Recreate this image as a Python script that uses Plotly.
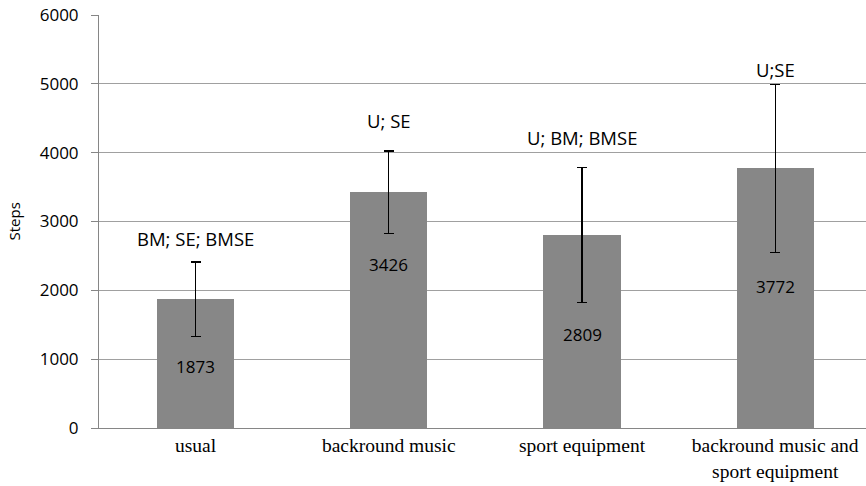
import plotly.graph_objects as go

categories = ["usual", "backround music", "sport equipment", "backround music and<br>sport equipment"]
steps = [1873, 3426, 2809, 3772]
errors = [540, 600, 980, 1220]
sig_labels = ["BM; SE; BMSE", "U; SE", "U; BM; BMSE", "U;SE"]
sig_label_y = [2760, 4470, 4220, 5210]
value_label_y = [900, 2380, 1360, 2050]
y_ticks = [0, 1000, 2000, 3000, 4000, 5000, 6000]

x = list(range(len(categories)))

SANS = "Open Sans, Lato, sans-serif"
SERIF = "Liberation Serif, Times New Roman, serif"

fig = go.Figure()
fig.add_trace(go.Bar(
    x=x, y=steps, width=0.4,
    marker=dict(color="#878787", line=dict(width=0)),
    error_y=dict(type="data", array=errors, visible=True, color="#000000",
                 thickness=1.2, width=5),
    showlegend=False,
))

annotations = []
for i in x:
    annotations.append(dict(x=i, y=sig_label_y[i], text=sig_labels[i], showarrow=False,
                            xref="x", yref="y",
                            font=dict(family=SANS, size=18.5, color="#000")))
    annotations.append(dict(x=i, y=value_label_y[i], text=str(steps[i]), showarrow=False,
                            xref="x", yref="y",
                            font=dict(family=SANS, size=17, color="#000")))
# y-axis title
annotations.append(dict(x=0, y=0.5, xref="paper", yref="paper", xshift=-86,
                        text="Steps", textangle=-90, showarrow=False,
                        xanchor="center", yanchor="middle",
                        font=dict(family=SANS, size=15, color="#000")))

fig.update_layout(
    width=866, height=486,
    margin=dict(l=99, r=0, t=15, b=58),
    plot_bgcolor="white", paper_bgcolor="white",
    annotations=annotations,
    bargap=0,
)
fig.update_xaxes(
    range=[-0.5, 3.47], tickvals=x, ticktext=categories,
    showgrid=False, zeroline=False, automargin=False,
    showline=True, linecolor="#868686", linewidth=1,
    tickfont=dict(family=SERIF, size=19.5, color="#000"),
    ticks="",
)
fig.update_yaxes(
    range=[0, 6001], tickvals=y_ticks, automargin=False,
    showgrid=True, gridcolor="#a0a0a0", gridwidth=1,
    zeroline=False,
    showline=True, linecolor="#868686", linewidth=1,
    ticks="outside", ticklen=7, tickcolor="#868686",
    ticklabelstandoff=9,
    tickfont=dict(family=SANS, size=17, color="#000"),
)

fig.write_html("out.html", config={"displayModeBar": False},
               post_script="document.body.style.margin='0';")
